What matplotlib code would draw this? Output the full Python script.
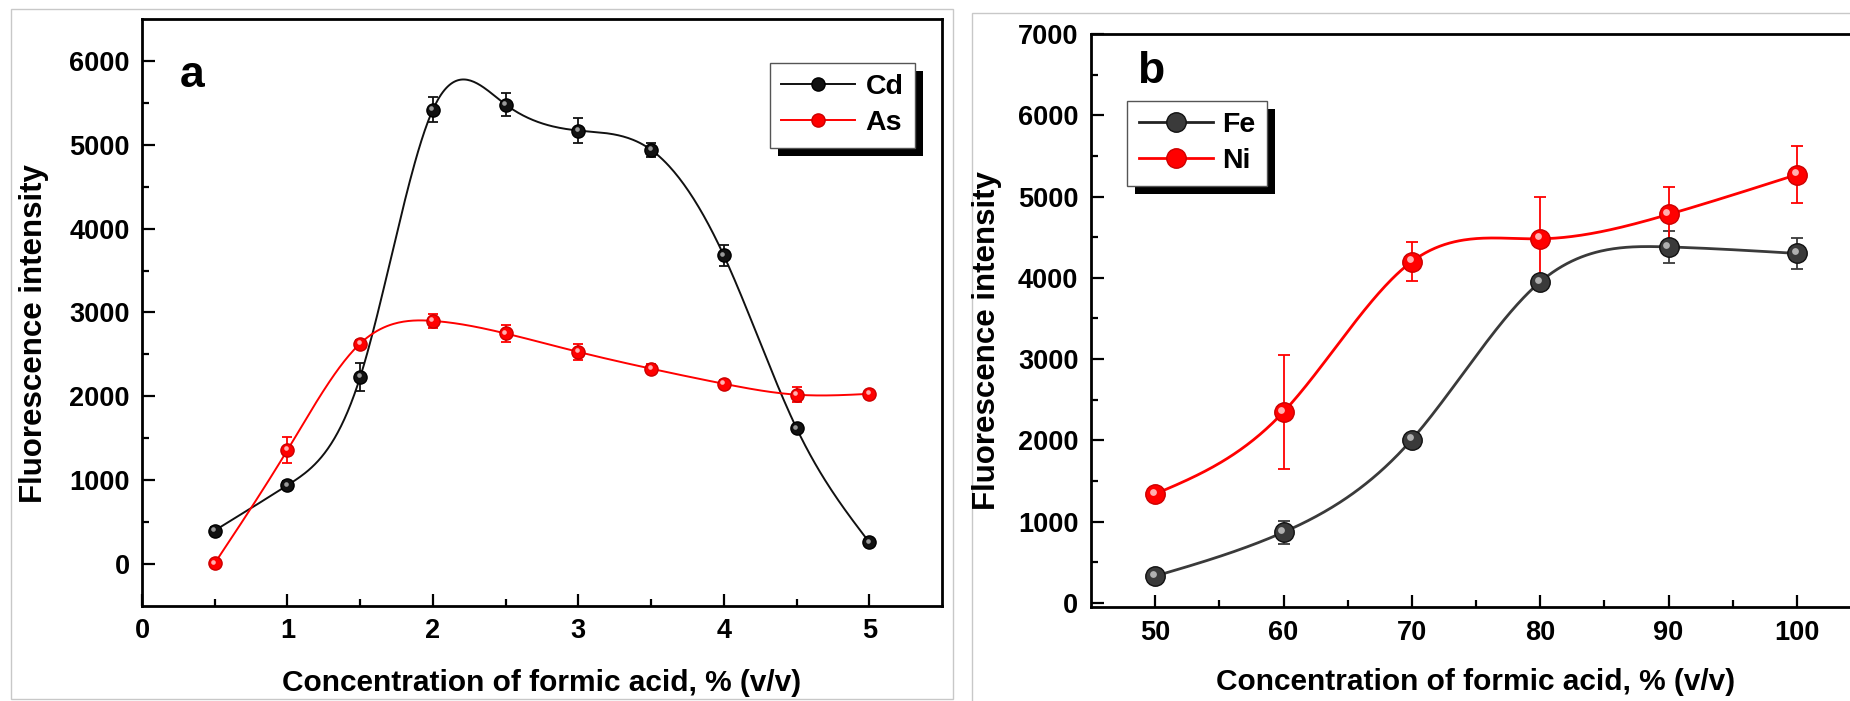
import numpy as np
import matplotlib
matplotlib.use('Agg')
import matplotlib.pyplot as plt
from matplotlib.lines import Line2D
from matplotlib.patches import Rectangle
from matplotlib.transforms import offset_copy, IdentityTransform

plt.rcParams['font.family'] = ['Liberation Sans', 'DejaVu Sans']
plt.rcParams['font.weight'] = 'bold'

# panel a: formic acid % (v/v) 0.5-5
conc_a = [0.5, 1.0, 1.5, 2.0, 2.5, 3.0, 3.5, 4.0, 4.5, 5.0]
cd_vals = [400, 940, 2230, 5420, 5480, 5170, 4940, 3680, 1620, 260]
cd_err = [40, 50, 170, 150, 140, 150, 80, 125, 40, 30]
as_vals = [10, 1360, 2630, 2900, 2750, 2530, 2330, 2150, 2020, 2030]
as_err = [30, 150, 40, 85, 100, 100, 50, 50, 90, 30]

# panel b: formic acid % (v/v) 50-100
conc_b = [50, 60, 70, 80, 90, 100]
fe_vals = [330, 870, 2010, 3950, 4380, 4300]
fe_err = [80, 140, 50, 60, 200, 195]
ni_vals = [1340, 2350, 4200, 4480, 4780, 5270]
ni_err = [60, 700, 235, 510, 340, 355]

TICK_FS = 19.5
LABEL_FS = 21.5
LEG_FS = 20.5


def natural_spline(x, y, n=400):
    # smooth connecting curve through the points (like Origin's spline line)
    x = np.asarray(x, float)
    y = np.asarray(y, float)
    k = len(x)
    h = np.diff(x)
    A = np.zeros((k, k))
    r = np.zeros(k)
    A[0, 0] = A[-1, -1] = 1
    for i in range(1, k - 1):
        A[i, i - 1] = h[i - 1]
        A[i, i] = 2 * (h[i - 1] + h[i])
        A[i, i + 1] = h[i]
        r[i] = 6 * ((y[i + 1] - y[i]) / h[i] - (y[i] - y[i - 1]) / h[i - 1])
    M = np.linalg.solve(A, r)
    xs = np.linspace(x[0], x[-1], n)
    idx = np.clip(np.searchsorted(x, xs) - 1, 0, k - 2)
    x0, x1 = x[idx], x[idx + 1]
    hh = x1 - x0
    t0, t1 = x1 - xs, xs - x0
    ys = (M[idx] * t0 ** 3 + M[idx + 1] * t1 ** 3) / (6 * hh) \
        + (y[idx] / hh - M[idx] * hh / 6) * t0 \
        + (y[idx + 1] / hh - M[idx + 1] * hh / 6) * t1
    return xs, ys


def draw_series(ax, x, y, err, color, edge, light, lw, ms, cap):
    xs, ys = natural_spline(x, y)
    ax.plot(xs, ys, color=color, lw=lw, zorder=2)
    ax.errorbar(x, y, yerr=err, fmt='none', ecolor=color, elinewidth=1.3,
                capsize=cap, capthick=1.3, zorder=3)
    ax.plot(x, y, ls='none', marker='o', ms=ms, mfc=color, mec=edge,
            mew=1.0, zorder=4)
    hl = offset_copy(ax.transData, fig=ax.figure, x=-ms * 0.12, y=ms * 0.12,
                     units='points')
    ax.plot(x, y, ls='none', marker='o', ms=ms * 0.35, mfc=light, mec='none',
            transform=hl, zorder=5)


def style_axes(ax):
    for s in ax.spines.values():
        s.set_linewidth(2.0)
        s.set_color('black')
    ax.tick_params(which='both', direction='in', top=False, right=False,
                   labelsize=TICK_FS, pad=9, width=1.6)
    ax.tick_params(which='major', length=9)
    ax.tick_params(which='minor', length=5)
    for lab in ax.get_xticklabels() + ax.get_yticklabels():
        lab.set_fontweight('bold')


def add_legend(ax, handles, labels, anchor):
    leg = ax.legend(handles, labels, loc='upper left', bbox_to_anchor=anchor,
                    borderaxespad=0, fancybox=False, framealpha=1,
                    edgecolor='#555555', handlelength=2.6,
                    handletextpad=0.35, borderpad=0.4, labelspacing=0.35,
                    numpoints=1, prop={'weight': 'bold', 'size': LEG_FS})
    leg.get_frame().set_linewidth(1.0)
    leg.set_zorder(10)
    return leg


fig = plt.figure(figsize=(18.5, 7.01), dpi=100)
fig.patch.set_facecolor('white')

# light grey panel frames
fig.add_artist(Rectangle((11 / 1850, 1 - 699 / 701), 942 / 1850, 690 / 701,
                         transform=fig.transFigure, fill=False,
                         edgecolor='#c8c8c8', lw=1.0))
fig.add_artist(Rectangle((972 / 1850, 1 - 705 / 701), 900 / 1850, 692 / 701,
                         transform=fig.transFigure, fill=False,
                         edgecolor='#c8c8c8', lw=1.0))

# ---- panel a
ax1 = fig.add_axes([142 / 1850, 95 / 701, 800 / 1850, 587 / 701])
draw_series(ax1, conc_a, cd_vals, cd_err, '#111111', '#000000', '#9a9a9a', 1.4, 9.5, 3.5)
draw_series(ax1, conc_a, as_vals, as_err, '#ff0000', '#cc0000', '#ffb0b0', 1.4, 9.5, 3.5)
ax1.set_xlim(0, 5.5)
ax1.set_ylim(-500, 6500)
ax1.set_xticks([0, 1, 2, 3, 4, 5])
ax1.set_xticks(np.arange(0.5, 5.5, 1.0), minor=True)
ax1.set_yticks(np.arange(0, 6001, 1000))
ax1.set_yticks(np.arange(500, 6500, 1000), minor=True)
style_axes(ax1)
ax1.text(0.0475, 0.884, 'a', transform=ax1.transAxes, fontsize=32,
         fontweight='bold', va='baseline', ha='left')
h_cd = Line2D([], [], color='#111111', lw=1.4, marker='o', ms=9.5, mfc='#111111', mec='black')
h_as = Line2D([], [], color='#ff0000', lw=1.4, marker='o', ms=9.5, mfc='#ff0000', mec='#cc0000')
leg1 = add_legend(ax1, [h_cd, h_as], ['Cd', 'As'], (0.785, 0.925))

# ---- panel b
ax2 = fig.add_axes([1091 / 1850, 94 / 701, 770 / 1850, 573 / 701])
draw_series(ax2, conc_b, fe_vals, fe_err, '#3a3a3a', '#111111', '#b0b0b0', 2.0, 14, 4)
draw_series(ax2, conc_b, ni_vals, ni_err, '#ff0000', '#cc0000', '#ffb0b0', 2.0, 14, 4)
ax2.set_xlim(45, 105)
ax2.set_ylim(-50, 7000)
ax2.set_xticks([50, 60, 70, 80, 90, 100])
ax2.set_xticks([55, 65, 75, 85, 95], minor=True)
ax2.set_yticks(np.arange(0, 7001, 1000))
ax2.set_yticks(np.arange(500, 7000, 1000), minor=True)
style_axes(ax2)
ax2.text(0.06, 0.914, 'b', transform=ax2.transAxes, fontsize=32,
         fontweight='bold', va='baseline', ha='left')
h_fe = Line2D([], [], color='#222222', lw=2.0, marker='o', ms=14, mfc='#3a3a3a', mec='#111111')
h_ni = Line2D([], [], color='#ff0000', lw=2.0, marker='o', ms=14, mfc='#ff0000', mec='#cc0000')
leg2 = add_legend(ax2, [h_fe, h_ni], ['Fe', 'Ni'], (0.047, 0.883))

# axis titles
fig.text(542 / 1850, 1 - 683 / 701, 'Concentration of formic acid, % (v/v)',
         fontsize=LABEL_FS, fontweight='bold', ha='center', va='center')
fig.text(1476 / 1850, 1 - 682 / 701, 'Concentration of formic acid, % (v/v)',
         fontsize=LABEL_FS, fontweight='bold', ha='center', va='center')
fig.text(34 / 1850, 1 - 334 / 701, 'Fluorescence intensity', rotation=90,
         fontsize=LABEL_FS + 1, fontweight='bold', ha='center', va='center')
fig.text(987 / 1850, 1 - 341 / 701, 'Fluorescence intensity', rotation=90,
         fontsize=LABEL_FS + 1, fontweight='bold', ha='center', va='center')

# black drop shadow behind the legend boxes
fig.canvas.draw()
for ax, leg in [(ax1, leg1), (ax2, leg2)]:
    bb = leg.get_frame().get_window_extent()
    ax.add_patch(Rectangle((bb.x0 + 8, bb.y0 - 8), bb.width, bb.height,
                           transform=IdentityTransform(), facecolor='black',
                           edgecolor='none', clip_on=False, zorder=9))

fig.savefig('out.png', dpi=100, facecolor='white')
